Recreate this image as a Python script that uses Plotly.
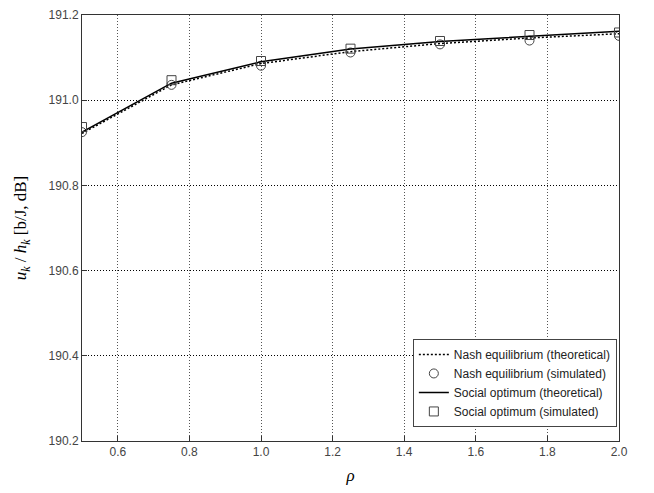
import plotly.graph_objects as go

rho = [0.5, 0.75, 1.0, 1.25, 1.5, 1.75, 2.0]
nash_theory = [190.922, 191.036, 191.086, 191.114, 191.133, 191.146, 191.156]
nash_sim = [190.925, 191.036, 191.081, 191.112, 191.131, 191.140, 191.151]
social_theory = [190.925, 191.040, 191.090, 191.120, 191.138, 191.150, 191.162]
social_sim = [190.937, 191.047, 191.092, 191.121, 191.139, 191.153, 191.159]

x_ticks = [0.6, 0.8, 1.0, 1.2, 1.4, 1.6, 1.8, 2.0]
x_labels = ["0.6", "0.8", "1.0", "1.2", "1.4", "1.6", "1.8", "2.0"]
y_ticks = [190.2, 190.4, 190.6, 190.8, 191.0, 191.2]
y_labels = ["190.2", "190.4", "190.6", "190.8", "191.0", "191.2"]

fig = go.Figure()
fig.add_trace(go.Scatter(x=rho, y=nash_theory, mode="lines", name="Nash equilibrium (theoretical)",
                         line=dict(color="black", width=1.5, dash="2px,2px")))
fig.add_trace(go.Scatter(x=rho, y=nash_sim, mode="markers", name="Nash equilibrium (simulated)",
                         marker=dict(symbol="circle-open", size=9, color="#444", line=dict(width=1))))
fig.add_trace(go.Scatter(x=rho, y=social_theory, mode="lines", name="Social optimum (theoretical)",
                         line=dict(color="black", width=1.5)))
fig.add_trace(go.Scatter(x=rho, y=social_sim, mode="markers", name="Social optimum (simulated)",
                         marker=dict(symbol="square-open", size=9, color="#444", line=dict(width=1))))

axis_common = dict(showline=True, linecolor="#333", linewidth=1, mirror=True,
                   ticks="inside", ticklen=5, tickcolor="#333",
                   showgrid=True, gridwidth=1, griddash="1px,2px",
                   zeroline=False, automargin=False,
                   tickfont=dict(family="Liberation Sans, Arial", size=12, color="#444"))

fig.update_layout(
    width=654, height=493,
    margin=dict(l=74, r=43, t=7, b=60),
    paper_bgcolor="white", plot_bgcolor="white",
    xaxis=dict(range=[0.5, 2.0], tickvals=x_ticks, ticktext=x_labels, gridcolor="#555",
               title=dict(text="<i>ρ</i>", font=dict(family="Liberation Serif, Times New Roman", size=17, color="black"), standoff=10),
               **axis_common),
    yaxis=dict(range=[190.2, 191.2], tickvals=y_ticks, ticktext=y_labels, gridcolor="black",
               title=dict(text="<i>u</i><sub><i>k</i></sub> / <i>h</i><sub><i>k</i></sub> [b/J, dB]",
                          font=dict(family="Liberation Serif, Times New Roman", size=17, color="black"), standoff=17),
               **axis_common),
    legend=dict(x=0.996, y=0.033, xanchor="right", yanchor="bottom",
                bgcolor="white", bordercolor="#444", borderwidth=1,
                font=dict(family="Liberation Sans, Arial", size=12, color="#222"),
                tracegroupgap=0, itemwidth=30),
    showlegend=True,
)

fig.write_html("out.html")
